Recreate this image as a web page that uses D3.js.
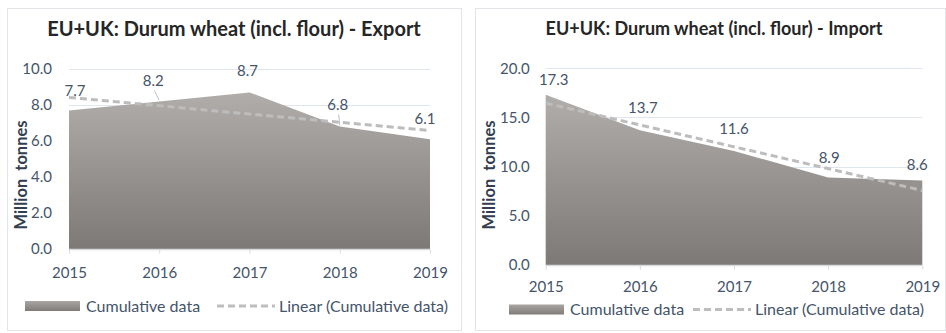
<!DOCTYPE html>
<html>
<head>
<meta charset="utf-8">
<script src="https://cdn.jsdelivr.net/npm/d3@7"></script>
<style>
  html, body { margin: 0; padding: 0; background: #fff; }
  svg { display: block; font-family: Lato, "Open Sans", sans-serif; }
</style>
</head>
<body>
<svg id="chart" width="946" height="333"></svg>
<script>
// Durum wheat trade, EU+UK, million tonnes
const years = ["2015", "2016", "2017", "2018", "2019"];
const exportValues = [7.7, 8.2, 8.7, 6.8, 6.1];
const importValues = [17.3, 13.7, 11.6, 8.9, 8.6];
const exportTicks = [0, 2, 4, 6, 8, 10];
const importTicks = [0, 5, 10, 15, 20];
const exportTitle = "EU+UK: Durum wheat (incl. flour) - Export";
const importTitle = "EU+UK: Durum wheat (incl. flour) - Import";
const yAxisTitle = "Million  tonnes";
const legendArea = "Cumulative data";
const legendTrend = "Linear (Cumulative data)";

const svg = d3.select("#chart");
const defs = svg.append("defs");
const grad = defs.append("linearGradient").attr("id", "areaGrad")
  .attr("x1", 0).attr("y1", 0).attr("x2", 0).attr("y2", 1);
grad.append("stop").attr("offset", "0%").attr("stop-color", "#b1adab");
grad.append("stop").attr("offset", "100%").attr("stop-color", "#7d7977");
const swGrad = defs.append("linearGradient").attr("id", "swatchGrad")
  .attr("x1", 0).attr("y1", 0).attr("x2", 0).attr("y2", 1);
swGrad.append("stop").attr("offset", "0%").attr("stop-color", "#a9a5a3");
swGrad.append("stop").attr("offset", "100%").attr("stop-color", "#807c7a");

// least-squares trend over the category index
function linearFit(vals) {
  const n = vals.length;
  const mx = d3.mean(vals, (d, i) => i);
  const my = d3.mean(vals);
  let sxy = 0, sxx = 0;
  vals.forEach((v, i) => { sxy += (i - mx) * (v - my); sxx += (i - mx) * (i - mx); });
  const b = sxy / sxx, a = my - b * mx;
  return [0, n - 1].map(i => ({ i, v: a + b * i }));
}

const textCol = "#44546a";
const numSize = 15;
const legendSize = 16;

function drawPanel(cfg) {
  const g = svg.append("g");

  g.append("rect")
    .attr("x", cfg.box[0] + 0.5).attr("y", cfg.box[1] + 0.5)
    .attr("width", cfg.box[2]).attr("height", cfg.box[3])
    .attr("fill", "#fff").attr("stroke", "#e1e5ea");

  g.append("text")
    .attr("x", cfg.titleX).attr("y", cfg.titleY)
    .attr("text-anchor", "middle")
    .attr("font-size", cfg.titleSize).attr("font-weight", 700)
    .attr("fill", "#262626")
    .text(cfg.title);

  const x = d3.scalePoint().domain(years).range(cfg.xRange);
  const y = d3.scaleLinear().domain([0, d3.max(cfg.ticks)]).range(cfg.yRange);

  // gridlines
  g.append("g").selectAll("line").data(cfg.ticks.filter(t => t > 0)).join("line")
    .attr("x1", cfg.xRange[0]).attr("x2", cfg.xRange[1])
    .attr("y1", d => Math.round(y(d)) + 0.5).attr("y2", d => Math.round(y(d)) + 0.5)
    .attr("stroke", "#dfe6ef").attr("stroke-width", 1);

  // value axis labels
  const yAxis = d3.axisLeft(y).tickValues(cfg.ticks).tickFormat(d3.format(".1f"))
    .tickSize(0).tickPadding(cfg.yLabelPad);
  const ya = g.append("g").attr("transform", `translate(${cfg.xRange[0]},0)`).call(yAxis);
  ya.select(".domain").remove();
  ya.selectAll("text").attr("font-family", "Lato, sans-serif").attr("font-size", numSize)
    .attr("fill", textCol);

  // area
  const area = d3.area()
    .x((d, i) => x(years[i]))
    .y0(y(0))
    .y1(d => y(d));
  g.append("path").datum(cfg.values).attr("d", area).attr("fill", "url(#areaGrad)");

  // category axis
  const xAxis = d3.axisBottom(x).tickSize(4).tickPadding(cfg.xLabelPad);
  const xa = g.append("g").attr("transform", `translate(0,${y(0) + 0.5})`).call(xAxis);
  xa.select(".domain").attr("stroke", "#d9d9d9").attr("stroke-width", 1.5)
    .attr("d", `M${cfg.xRange[0]},0H${cfg.xRange[1]}`);
  xa.selectAll(".tick line").attr("stroke", "#d9d9d9");
  xa.selectAll("text").attr("font-family", "Lato, sans-serif").attr("font-size", numSize)
    .attr("fill", textCol);

  // linear trend
  const trend = linearFit(cfg.values);
  g.append("line")
    .attr("x1", x(years[trend[0].i])).attr("y1", y(trend[0].v))
    .attr("x2", x(years[trend[1].i])).attr("y2", y(trend[1].v))
    .attr("stroke", "#bdbdbd").attr("stroke-width", 3)
    .attr("stroke-dasharray", "7,4");

  // data labels
  cfg.values.forEach((v, i) => {
    const px = x(years[i]), py = y(v);
    const [dx, dy] = cfg.labelOffsets[i];
    if (cfg.leaders.includes(i)) {
      g.append("line")
        .attr("x1", px + dx + 1).attr("y1", py + dy + 10)
        .attr("x2", px).attr("y2", py - 1)
        .attr("stroke", "#a6b3c4").attr("stroke-width", 0.8);
    }
    g.append("text")
      .attr("x", px + dx).attr("y", py + dy)
      .attr("dy", "0.35em")
      .attr("text-anchor", "middle")
      .attr("font-size", numSize).attr("fill", textCol)
      .text(d3.format(".1f")(v));
  });

  // axis title
  g.append("text")
    .attr("transform", `translate(${cfg.axisTitleX},${cfg.axisTitleY}) rotate(-90)`)
    .attr("text-anchor", "middle")
    .attr("font-size", 16.5).attr("font-weight", 700)
    .attr("fill", "#333f50")
    .attr("style", "white-space: pre")
    .text(yAxisTitle);

  // legend
  const lg = cfg.legend;
  g.append("rect").attr("x", lg.swX).attr("y", lg.y - 5).attr("width", 55).attr("height", 10)
    .attr("fill", "url(#swatchGrad)");
  g.append("text").attr("x", lg.swX + 61).attr("y", lg.y).attr("dy", "0.35em")
    .attr("font-size", legendSize).attr("fill", textCol).text(legendArea);
  g.append("line").attr("x1", lg.dashX).attr("x2", lg.dashX + 58)
    .attr("y1", lg.y).attr("y2", lg.y)
    .attr("stroke", "#bdbdbd").attr("stroke-width", 3).attr("stroke-dasharray", "7,4");
  g.append("text").attr("x", lg.dashX + 62).attr("y", lg.y).attr("dy", "0.35em")
    .attr("font-size", legendSize).attr("fill", textCol).text(legendTrend);
}

drawPanel({
  box: [7, 8, 454, 322],
  title: exportTitle, titleX: 234, titleY: 36, titleSize: 20,
  values: exportValues, ticks: exportTicks,
  xRange: [69, 430], yRange: [249, 69],
  yLabelPad: 17, xLabelPad: 14,
  labelOffsets: [[6, -20], [-6, -21], [-2, -22], [-2, -22], [-5, -20]],
  leaders: [1, 3],
  axisTitleX: 27, axisTitleY: 175,
  legend: { swX: 25, dashX: 217, y: 306 }
});

drawPanel({
  box: [475, 8, 470, 322],
  title: importTitle, titleX: 714, titleY: 35, titleSize: 18,
  values: importValues, ticks: importTicks,
  xRange: [545.7, 922.3], yRange: [265, 68.3],
  yLabelPad: 16, xLabelPad: 12,
  labelOffsets: [[8, -15], [3, -23], [0, -22], [1, -20], [-5, -16]],
  leaders: [],
  axisTitleX: 495, axisTitleY: 175,
  legend: { swX: 509, dashX: 693, y: 309.5 }
});
</script>
</body>
</html>
